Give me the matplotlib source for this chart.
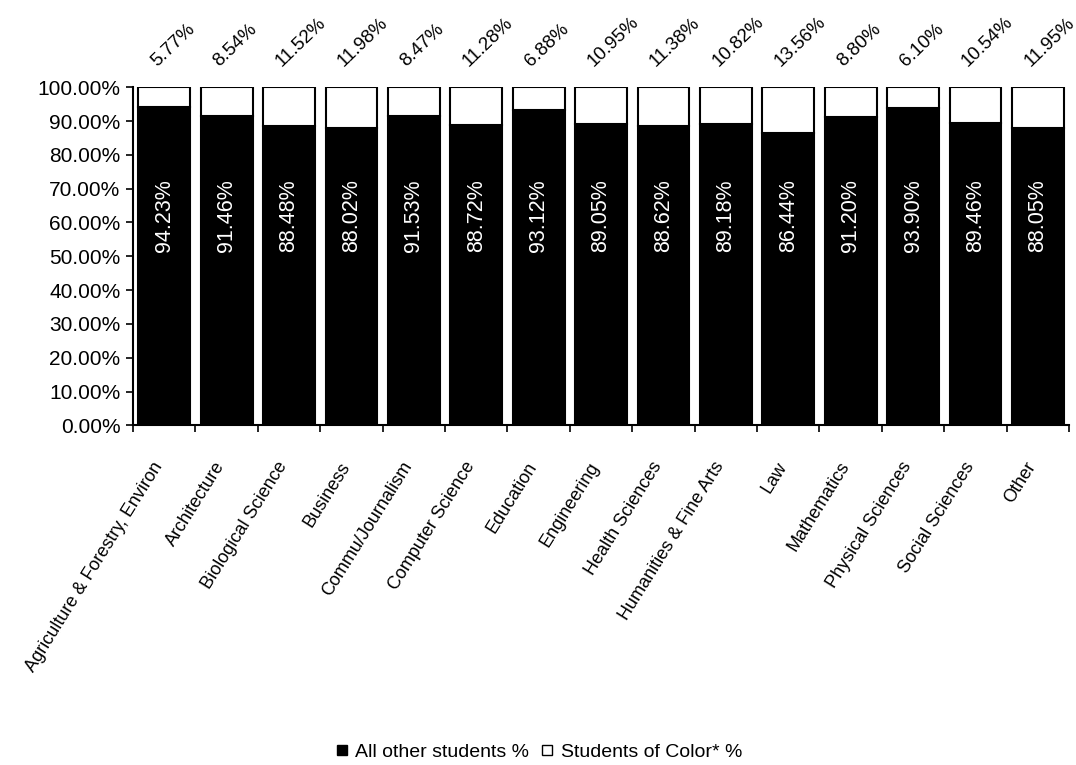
import matplotlib
matplotlib.use("Agg")
import matplotlib.pyplot as plt
import numpy as np
from matplotlib.lines import Line2D

categories = ["Agriculture & Forestry, Environ", "Architecture", "Biological Science",
              "Business", "Commu/Journalism", "Computer Science", "Education",
              "Engineering", "Health Sciences", "Humanities & Fine Arts", "Law",
              "Mathematics", "Physical Sciences", "Social Sciences", "Other"]
all_other = [94.23, 91.46, 88.48, 88.02, 91.53, 88.72, 93.12, 89.05, 88.62, 89.18,
             86.44, 91.20, 93.90, 89.46, 88.05]
color_pct = [5.77, 8.54, 11.52, 11.98, 8.47, 11.28, 6.88, 10.95, 11.38, 10.82,
             13.56, 8.80, 6.10, 10.54, 11.95]

plt.rcParams['font.family'] = ['Liberation Sans', 'DejaVu Sans']
fig = plt.figure(figsize=(10.76, 7.65), dpi=100)
ax = fig.add_axes([0.1236, 0.444, 0.870, 0.442])

x = np.arange(len(categories))
w = 0.83
ax.bar(x, all_other, width=w, color='black', edgecolor='black', linewidth=1.5)
ax.bar(x, color_pct, bottom=all_other, width=w, color='white', edgecolor='black', linewidth=1.5)

for xi, v in zip(x, all_other):
    ax.text(xi, 62, f"{v:.2f}%", rotation=90, color='white', ha='center', va='center', fontsize=15.5)
for xi, v in zip(x, color_pct):
    ax.text(xi - 0.12, 106, f"{v:.2f}%", rotation=44, color='black', ha='left', va='baseline',
            rotation_mode='anchor', fontsize=13.5, clip_on=False)

ax.set_xlim(-0.5, len(categories) - 0.5)
ax.set_ylim(0, 100)
ax.set_yticks(np.arange(0, 101, 10))
ax.set_yticklabels([f"{t:.2f}%" for t in range(0, 101, 10)], fontsize=15)
ax.set_xticks(np.arange(-0.5, len(categories), 1.0))
ax.set_xticklabels([])
ax.set_xticks(x - 0.2, minor=True)
ax.set_xticklabels(categories, minor=True, rotation=58, ha='right', rotation_mode='anchor',
                   fontsize=13)
ax.tick_params(axis='x', which='minor', length=0, pad=24)
ax.tick_params(axis='x', which='major', length=5, width=1.2, direction='out')
ax.tick_params(axis='y', length=5, width=1.2, direction='out', pad=4)
for s in ['top', 'right']:
    ax.spines[s].set_visible(False)
ax.spines['left'].set_linewidth(1.5)
ax.spines['bottom'].set_linewidth(1.5)

handles = [Line2D([], [], marker='s', linestyle='none', markersize=7, markerfacecolor='black',
                  markeredgecolor='black'),
           Line2D([], [], marker='s', linestyle='none', markersize=7, markerfacecolor='white',
                  markeredgecolor='black')]
fig.legend(handles, ["All other students %", "Students of Color* %"], loc='center',
           bbox_to_anchor=(0.5, 0.017), ncol=2, frameon=False, fontsize=14,
           handletextpad=0.3, columnspacing=0.5, handlelength=0.8)

fig.savefig("out.png", dpi=100)
